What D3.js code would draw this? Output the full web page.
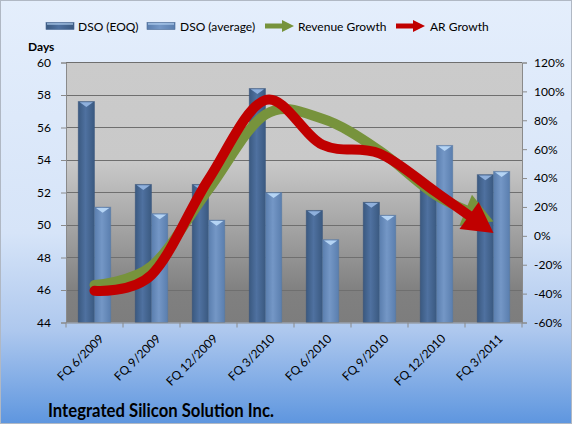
<!DOCTYPE html>
<html>
<head>
<meta charset="utf-8">
<script src="https://cdn.jsdelivr.net/npm/d3@7"></script>
<style>
  body { margin: 0; }
  svg text { font-family: Lato, "Liberation Sans", sans-serif; fill: #000; }
</style>
</head>
<body>
<div id="chart"></div>
<script>
// Chart data
const categories = ["FQ 6/2009", "FQ 9/2009", "FQ 12/2009", "FQ 3/2010", "FQ 6/2010", "FQ 9/2010", "FQ 12/2010", "FQ 3/2011"];
const dsoEOQ = [57.6, 52.5, 52.5, 58.4, 50.9, 51.4, 52.3, 53.1];
const dsoAvg = [51.1, 50.7, 50.3, 52.0, 49.1, 50.6, 54.9, 53.3];
const revenueGrowth = [-34, -21, 32, 84, 81, 59, 28, 10];   // %
const arGrowth = [-38, -27, 39, 94, 63, 57, 30, 2];         // %
const daysTicks = [44, 46, 48, 50, 52, 54, 56, 58, 60];
const pctTicks = [-60, -40, -20, 0, 20, 40, 60, 80, 100, 120];
const seriesNames = ["DSO (EOQ)", "DSO (average)", "Revenue Growth", "AR Growth"];
const chartTitle = "Integrated Silicon Solution Inc.";

const width = 575, height = 427;
const plot = { left: 66, right: 522, top: 62.5, bottom: 322.5 };

const svg = d3.select("#chart").append("svg")
    .attr("width", width)
    .attr("height", height);

const defs = svg.append("defs");

// Chart background: light blue fading to a deeper blue at the bottom
const bg = defs.append("linearGradient").attr("id", "bg").attr("x1", 0).attr("y1", 0).attr("x2", 0).attr("y2", 1);
bg.append("stop").attr("offset", "0").attr("stop-color", "#e4eefc");
bg.append("stop").attr("offset", "0.55").attr("stop-color", "#d6e4f8");
bg.append("stop").attr("offset", "0.78").attr("stop-color", "#aec8ee");
bg.append("stop").attr("offset", "1").attr("stop-color", "#5e96df");

// Plot area: flat light gray on top, darker gray towards the bottom
const pg = defs.append("linearGradient").attr("id", "plotbg").attr("x1", 0).attr("y1", 0).attr("x2", 0).attr("y2", 1);
pg.append("stop").attr("offset", "0").attr("stop-color", "#cbcbcb");
pg.append("stop").attr("offset", "0.38").attr("stop-color", "#c9c9c9");
pg.append("stop").attr("offset", "0.88").attr("stop-color", "#808080");
pg.append("stop").attr("offset", "1").attr("stop-color", "#7d7d7d");

// Bar gradients (horizontal, cylinder look)
function barGradient(id, edge, mid) {
    const g = defs.append("linearGradient").attr("id", id).attr("x1", 0).attr("y1", 0).attr("x2", 1).attr("y2", 0);
    g.append("stop").attr("offset", "0").attr("stop-color", edge);
    g.append("stop").attr("offset", "0.45").attr("stop-color", mid);
    g.append("stop").attr("offset", "1").attr("stop-color", edge);
}
barGradient("barDark", "#3a5980", "#4f71a0");
barGradient("barLight", "#5a7eae", "#7497c6");

svg.append("rect")
    .attr("x", 0.5).attr("y", 0.5)
    .attr("width", width - 4).attr("height", height - 4)
    .attr("fill", "url(#bg)")
    .attr("stroke", "#b0b8c4");

svg.append("rect")
    .attr("x", plot.left).attr("y", plot.top)
    .attr("width", plot.right - plot.left).attr("height", plot.bottom - plot.top)
    .attr("fill", "url(#plotbg)");

// Scales
const x0 = d3.scaleBand().domain(categories).range([plot.left, plot.right]).padding(0);
const x1 = d3.scaleBand().domain([0, 1]).range([0, x0.bandwidth()]).paddingInner(0).paddingOuter(0.75);
const yL = d3.scaleLinear().domain([44, 60]).range([plot.bottom, plot.top]);
const yR = d3.scaleLinear().domain([-60, 120]).range([plot.bottom, plot.top]);

// Gridlines
svg.append("g")
    .selectAll("line")
    .data(daysTicks.slice(1))
    .join("line")
    .attr("x1", plot.left).attr("x2", plot.right)
    .attr("y1", d => yL(d)).attr("y2", d => yL(d))
    .attr("stroke", "#6f6f6f")
    .attr("stroke-width", 1)
    .attr("shape-rendering", "crispEdges");

// Bars
const barData = [];
categories.forEach((c, i) => {
    barData.push({ cat: c, s: 0, v: dsoEOQ[i] });
    barData.push({ cat: c, s: 1, v: dsoAvg[i] });
});

const bars = svg.append("g").selectAll("g")
    .data(barData)
    .join("g")
    .attr("transform", d => `translate(${x0(d.cat) + x1(d.s)},0)`);

bars.append("rect")
    .attr("x", 0)
    .attr("y", d => yL(d.v))
    .attr("width", x1.bandwidth())
    .attr("height", d => yL(44) - yL(d.v))
    .attr("fill", d => d.s === 0 ? "url(#barDark)" : "url(#barLight)")
    .attr("stroke", d => d.s === 0 ? "#34507a" : "#55779f")
    .attr("stroke-opacity", 0.5)
    .attr("stroke-width", 0.8);

// little cap highlight on top of each bar
bars.append("path")
    .attr("d", d => {
        const w = x1.bandwidth(), y = yL(d.v);
        return `M1.5,${y + 0.8} L${w - 1.5},${y + 0.8} L${w / 2},${y + 5.5} Z`;
    })
    .attr("fill", d => d.s === 0 ? "#8fb0dc" : "#b5d4f4");

// Axes
const axisColor = "#8a8a8a";
const leftAxis = svg.append("g")
    .attr("transform", `translate(${plot.left},0)`)
    .call(d3.axisLeft(yL).tickValues(daysTicks).tickSize(5).tickPadding(10));
const rightAxis = svg.append("g")
    .attr("transform", `translate(${plot.right},0)`)
    .call(d3.axisRight(yR).tickValues(pctTicks).tickSize(5).tickPadding(7).tickFormat(d => d + "%"));
const bottomAxis = svg.append("g")
    .attr("transform", `translate(0,${plot.bottom})`)
    .call(d3.axisBottom(x0).tickSize(0).tickFormat(""));

[leftAxis, rightAxis, bottomAxis].forEach(a => {
    a.select(".domain").attr("stroke", axisColor);
    a.selectAll(".tick line").attr("stroke", axisColor);
    a.selectAll("text").style("font-size", "12px").attr("fill", "#000");
});

// category boundary ticks on the x axis
svg.append("g")
    .selectAll("line")
    .data(categories.concat(["end"]))
    .join("line")
    .attr("x1", (d, i) => i < categories.length ? x0(d) : plot.right)
    .attr("x2", (d, i) => i < categories.length ? x0(d) : plot.right)
    .attr("y1", plot.bottom).attr("y2", plot.bottom + 5)
    .attr("stroke", axisColor);

// rotated category labels
svg.append("g")
    .selectAll("text")
    .data(categories)
    .join("text")
    .attr("transform", d => `translate(${x0(d) + x0.bandwidth() / 2 + 4},${plot.bottom + 11}) rotate(-45)`)
    .attr("text-anchor", "end")
    .attr("dy", "0.7em")
    .style("font-size", "12px")
    .text(d => d);

svg.append("text")
    .attr("x", 28).attr("y", 51)
    .style("font-size", "12px")
    .style("font-weight", "bold")
    .text("Days");

// Growth lines with arrow heads
const xc = i => x0(categories[i]) + x0.bandwidth() / 2;
const line = d3.line()
    .x((d, i) => xc(i))
    .y(d => yR(d))
    .curve(d3.curveCardinal.tension(0));

function drawArrow(values, color) {
    const headLen = 30, headW = 33;
    const path = svg.append("path")
        .attr("d", line(values))
        .attr("fill", "none")
        .attr("stroke", color)
        .attr("stroke-width", 10)
        .attr("stroke-linecap", "round");
    const L = path.node().getTotalLength();
    path.attr("stroke-dasharray", `${L - headLen + 4} ${L}`);
    const tip = path.node().getPointAtLength(L);
    const base = path.node().getPointAtLength(L - headLen);
    const a = Math.atan2(tip.y - base.y, tip.x - base.x);
    const px = -Math.sin(a) * headW / 2, py = Math.cos(a) * headW / 2;
    svg.append("path")
        .attr("d", `M${tip.x},${tip.y} L${base.x + px},${base.y + py} L${base.x - px},${base.y - py} Z`)
        .attr("fill", color);
}

drawArrow(revenueGrowth, "#77933c");
drawArrow(arGrowth, "#c00000");

// Legend
const legend = svg.append("g");
const legendItems = [
    { name: seriesNames[0], type: "bar", fill: "url(#barDark)", x: 46, tx: 78 },
    { name: seriesNames[1], type: "bar", fill: "url(#barLight)", x: 147, tx: 180 },
    { name: seriesNames[2], type: "arrow", fill: "#77933c", x: 265, tx: 298 },
    { name: seriesNames[3], type: "arrow", fill: "#c00000", x: 396, tx: 430 }
];
legendItems.forEach(it => {
    if (it.type === "bar") {
        legend.append("rect")
            .attr("x", it.x).attr("y", 22.5)
            .attr("width", 28).attr("height", 7)
            .attr("fill", it.fill)
            .attr("stroke", "#4a6a94").attr("stroke-width", 0.6);
        legend.append("rect")
            .attr("x", it.x + 1).attr("y", 23.2)
            .attr("width", 26).attr("height", 1.5)
            .attr("fill", "#b5d2f2").attr("opacity", 0.8);
    } else {
        legend.append("line")
            .attr("x1", it.x).attr("x2", it.x + 18)
            .attr("y1", 26).attr("y2", 26)
            .attr("stroke", it.fill).attr("stroke-width", 5);
        legend.append("path")
            .attr("d", `M${it.x + 29},26 L${it.x + 17},20 L${it.x + 17},32 Z`)
            .attr("fill", it.fill);
    }
    legend.append("text")
        .attr("x", it.tx).attr("y", 30.5)
        .style("font-size", "12px")
        .text(it.name);
});

// Title
svg.append("text")
    .attr("x", 48).attr("y", 417)
    .attr("textLength", 226)
    .attr("lengthAdjust", "spacingAndGlyphs")
    .style("font-size", "18px")
    .style("font-weight", "bold")
    .text(chartTitle);
</script>
</body>
</html>
